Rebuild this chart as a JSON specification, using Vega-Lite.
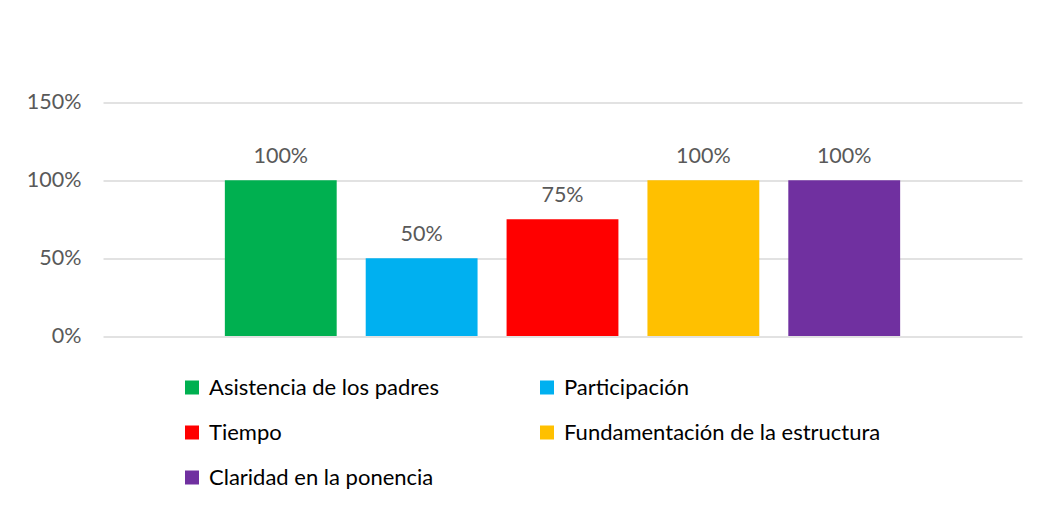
{
  "$schema": "https://vega.github.io/schema/vega-lite/v6.json",
  "width": 919,
  "height": 233.5,
  "autosize": "none",
  "padding": {"left": 103, "top": 102.5, "right": 18, "bottom": 169},
  "background": "white",
  "data": {"values": [
    {"serie": "Asistencia de los padres", "valor": 1.0},
    {"serie": "Participación", "valor": 0.5},
    {"serie": "Tiempo", "valor": 0.75},
    {"serie": "Fundamentación de la estructura", "valor": 1.0},
    {"serie": "Claridad en la ponencia", "valor": 1.0}
  ]},
  "config": {
    "view": {"stroke": null},
    "font": "Lato"
  },
  "encoding": {
    "x": {
      "field": "serie", "type": "nominal", "sort": null,
      "scale": {"paddingInner": 0.206, "paddingOuter": 0.865},
      "axis": null
    },
    "y": {
      "field": "valor", "type": "quantitative",
      "scale": {"domain": [0, 1.5], "nice": false},
      "axis": {
        "values": [0, 0.5, 1, 1.5], "format": ".0%", "title": null,
        "domain": false, "ticks": false, "labelPadding": 22,
        "labelFontSize": 21.5, "labelColor": "#595959", "labelFont": "Lato",
        "gridColor": "#d9d9d9", "gridWidth": 1.3
      }
    }
  },
  "layer": [
    {
      "mark": {"type": "bar"},
      "encoding": {
        "color": {
          "field": "serie", "type": "nominal",
          "scale": {
            "domain": ["Asistencia de los padres", "Tiempo", "Claridad en la ponencia", "Participación", "Fundamentación de la estructura"],
            "range": ["#00b050", "#ff0000", "#7030a0", "#00b0f0", "#ffc000"]
          },
          "legend": {
            "title": null, "orient": "none", "legendX": 78, "legendY": 274,
            "columns": 2, "columnPadding": 97, "rowPadding": 23,
            "symbolType": "square", "symbolSize": 196, "symbolStrokeWidth": 0,
            "labelFontSize": 22, "labelColor": "#000000", "labelFont": "Lato",
            "labelOffset": 6, "labelLimit": 500
          }
        }
      }
    },
    {
      "mark": {"type": "text", "baseline": "alphabetic", "dy": -17, "fontSize": 21.5, "color": "#595959", "font": "Lato"},
      "encoding": {
        "text": {"field": "valor", "type": "quantitative", "format": ".0%"}
      }
    }
  ]
}
